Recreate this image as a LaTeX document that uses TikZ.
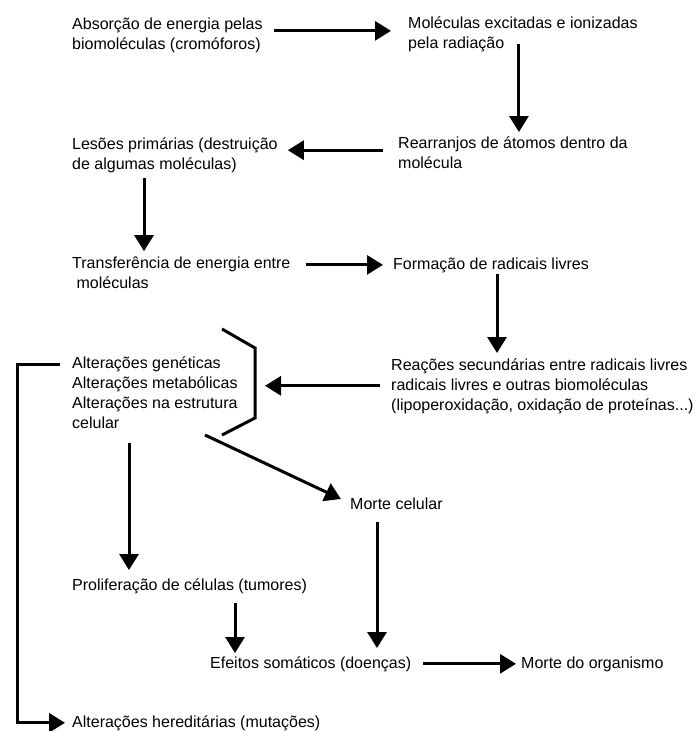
\documentclass[tikz,border=0pt]{standalone}
\usepackage{fontspec}
\setmainfont{Liberation Sans}
\usetikzlibrary{arrows.meta,calc,positioning}
\tikzstyle{txt}=[anchor=base west, align=left, inner sep=0pt, font=\fontsize{16}{20}\selectfont]
\tikzstyle{l1}=[line width=3]
\tikzstyle{arr}=[line width=3, -{Triangle[width=19pt,length=16pt]}]

\begin{document}
\begin{tikzpicture}[x=1pt, y=-1pt]
    \useasboundingbox (0,0) rectangle (696,731);
    % base = baseline of the last line
    \node[txt] at (72,49) (1) {Absorção de energia pelas\\biomoléculas (cromóforos)};
    \node[txt] at (408,48) (2) {Moléculas excitadas e ionizadas\\pela radiação};
    \node[txt] at (398,168) (3) {Rearranjos de átomos dentro da\\molécula};
    \node[txt] at (72,169) (4) {Lesões primárias (destruição\\de algumas moléculas)};
    \node[txt] at (72,288) (5) {Transferência de energia entre\\\ moléculas};
    \node[txt] at (393,269) (6) {Formação de radicais livres};
    \node[txt] at (391,410) (7) {Reações secundárias entre radicais livres\\radicais livres e outras biomoléculas\\(lipoperoxidação, oxidação de proteínas...)};
    \node[txt] at (72,428) (8) {Alterações genéticas\\Alterações metabólicas\\Alterações na estrutura\\celular};
    \node[txt] at (350,509) (9) {Morte celular};
    \node[txt] at (72,590) (10) {Proliferação de células (tumores)};
    \node[txt] at (210,668) (11) {Efeitos somáticos (doenças)};
    \node[txt] at (521,668) (12) {Morte do organismo};
    \node[txt] at (72,727) (13) {Alterações hereditárias (mutações)};

    \coordinate (br) at (255,383);
    \coordinate (d) at (205,435);

    \draw[arr, shorten <=11pt, shorten >=17pt] ([yshift=4pt]1.east) -- ([yshift=4pt]1.east -| 2.west);
    \draw[arr, shorten <=-8pt, shorten >=4pt] ([xshift=-4pt]2.south) -- ([xshift=-4pt]2.south |- 3.north);
    \draw[arr, shorten <=15pt, shorten >=10pt] ([yshift=2pt]3.west) -- ([yshift=2pt]3.west -| 4.east);
    \draw[arr, shorten <=5pt, shorten >=5pt] ([xshift=72pt]4.south west) -- ([xshift=72pt]4.south west |- 5.north);
    \draw[arr, shorten <=15pt, shorten >=10pt] (5.east |- 6.west) -- (6.west);
    \draw[arr, shorten <=1pt, shorten >=5pt] ([xshift=6pt]6.south) -- ([xshift=6pt]6.south |- 7.north);
    \draw[arr, shorten <=11pt, shorten >=10pt] (7.west) -- (7.west -| br);
    \draw[l1] (222,329) -- (255,348) -- (255,418) -- (222,435);
    \draw[arr, shorten >=10pt] (d) -- (9.west);
    \draw[arr, shorten <=15pt, shorten >=8pt] ([xshift=57pt]8.south west) -- ([xshift=57pt]8.south west |- 10.north);
    \draw[arr, shorten >=7pt] ([xshift=-12pt,yshift=-8pt]8.north west) -| ([xshift=-55pt]13.west) -- (13.west);
    \draw[arr, shorten <=9pt, shorten >=3pt] ([xshift=163pt]10.south west) -- ([xshift=163pt]10.south west |- 11.north);
    \draw[arr, shorten <=13pt, shorten >=8pt] ([xshift=27pt]9.south west) -- ([xshift=27pt]9.south west |- 11.north);
    \draw[arr, shorten <=12pt, shorten >=5pt] (11.east) -- (11.east -| 12.west);
\end{tikzpicture}
\end{document}
